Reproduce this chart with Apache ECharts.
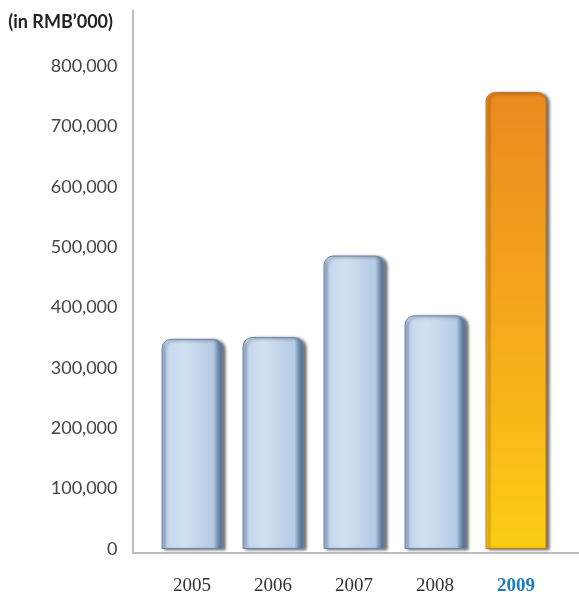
<!DOCTYPE html>
<html>
<head>
<meta charset="utf-8">
<script src="https://cdn.jsdelivr.net/npm/echarts@6/dist/echarts.min.js"></script>
<style>
  html, body { margin: 0; padding: 0; background: #fff; }
  #chart { width: 579px; height: 596px; }
</style>
</head>
<body>
<div id="chart"></div>
<script>
  // categories and values (RMB'000)
  let years = ['2005', '2006', '2007', '2008', '2009']
  let values = [348000, 351000, 486000, 387000, 757000]
  let highlightYear = '2009'

  let blueFill = new echarts.graphic.LinearGradient(0, 0, 1, 0, [
    {offset: 0, color: '#8eaacb'},
    {offset: 0.08, color: '#c4d7ed'},
    {offset: 0.35, color: '#d2e1f2'},
    {offset: 0.85, color: '#b4cbe6'},
    {offset: 0.93, color: '#6e8bad'},
    {offset: 1, color: '#4d6480'}
  ])
  let orangeFill = new echarts.graphic.LinearGradient(0, 0, 0, 1, [
    {offset: 0, color: '#ea8a1f'},
    {offset: 0.5, color: '#f5a81c'},
    {offset: 1, color: '#fccd14'}
  ])

  let chart = echarts.init(document.getElementById('chart'))
  chart.setOption({
    backgroundColor: '#fff',
    animation: false,
    title: {
      text: '(in RMB\u2019000)',
      right: 579 - 118,
      top: 8,
      textStyle: {
        fontFamily: 'Lato',
        fontWeight: 'bold',
        fontSize: 18,
        color: '#222'
      }
    },
    grid: [
      {left: 151.5, right: 22.5, top: 66, bottom: 43},
      {left: 133, right: 0, top: 10, bottom: 43}
    ],
    xAxis: [
      {
        type: 'category',
        gridIndex: 0,
        data: years,
        axisLine: {show: false},
        axisTick: {show: false},
        axisLabel: {
          interval: 0,
          margin: 28,
          fontFamily: 'Liberation Serif',
          fontSize: 19,
          color: '#333',
          formatter: function (v) {
            return v === highlightYear ? '{hl|' + v + '}' : v
          },
          rich: {
            hl: {
              fontFamily: 'Liberation Serif',
              fontSize: 19,
              fontWeight: 'bold',
              color: '#1b7bc0'
            }
          }
        }
      },
      {
        type: 'value',
        gridIndex: 1,
        axisLine: {show: true, lineStyle: {color: '#aaa', width: 1.5}},
        axisTick: {show: false},
        axisLabel: {show: false},
        splitLine: {show: false}
      }
    ],
    yAxis: [
      {
        type: 'value',
        gridIndex: 0,
        min: 0,
        max: 800000,
        interval: 100000,
        axisLine: {show: false},
        axisTick: {show: false},
        splitLine: {show: false},
        axisLabel: {
          margin: 34,
          fontFamily: 'Lato',
          fontSize: 18,
          color: '#444',
          formatter: function (v) {
            return v.toLocaleString('en-US')
          }
        }
      },
      {
        type: 'value',
        gridIndex: 1,
        axisLine: {show: true, lineStyle: {color: '#aaa', width: 1.5}},
        axisTick: {show: false},
        axisLabel: {show: false},
        splitLine: {show: false}
      }
    ],
    series: [
      {
        type: 'bar',
        xAxisIndex: 0,
        yAxisIndex: 0,
        barWidth: 61,
        data: values.map(function (v, i) {
          let hl = years[i] === highlightYear
          return {
            value: v,
            itemStyle: {
              color: hl ? orangeFill : blueFill,
              borderColor: hl ? '#c9781a' : '#6a86a6',
              borderWidth: 1,
              borderRadius: [9, 9, 0, 0],
              shadowColor: 'rgba(0,0,0,0.55)',
              shadowBlur: 3,
              shadowOffsetX: 3,
              shadowOffsetY: 1
            }
          }
        })
      }
    ]
  })
</script>
</body>
</html>
